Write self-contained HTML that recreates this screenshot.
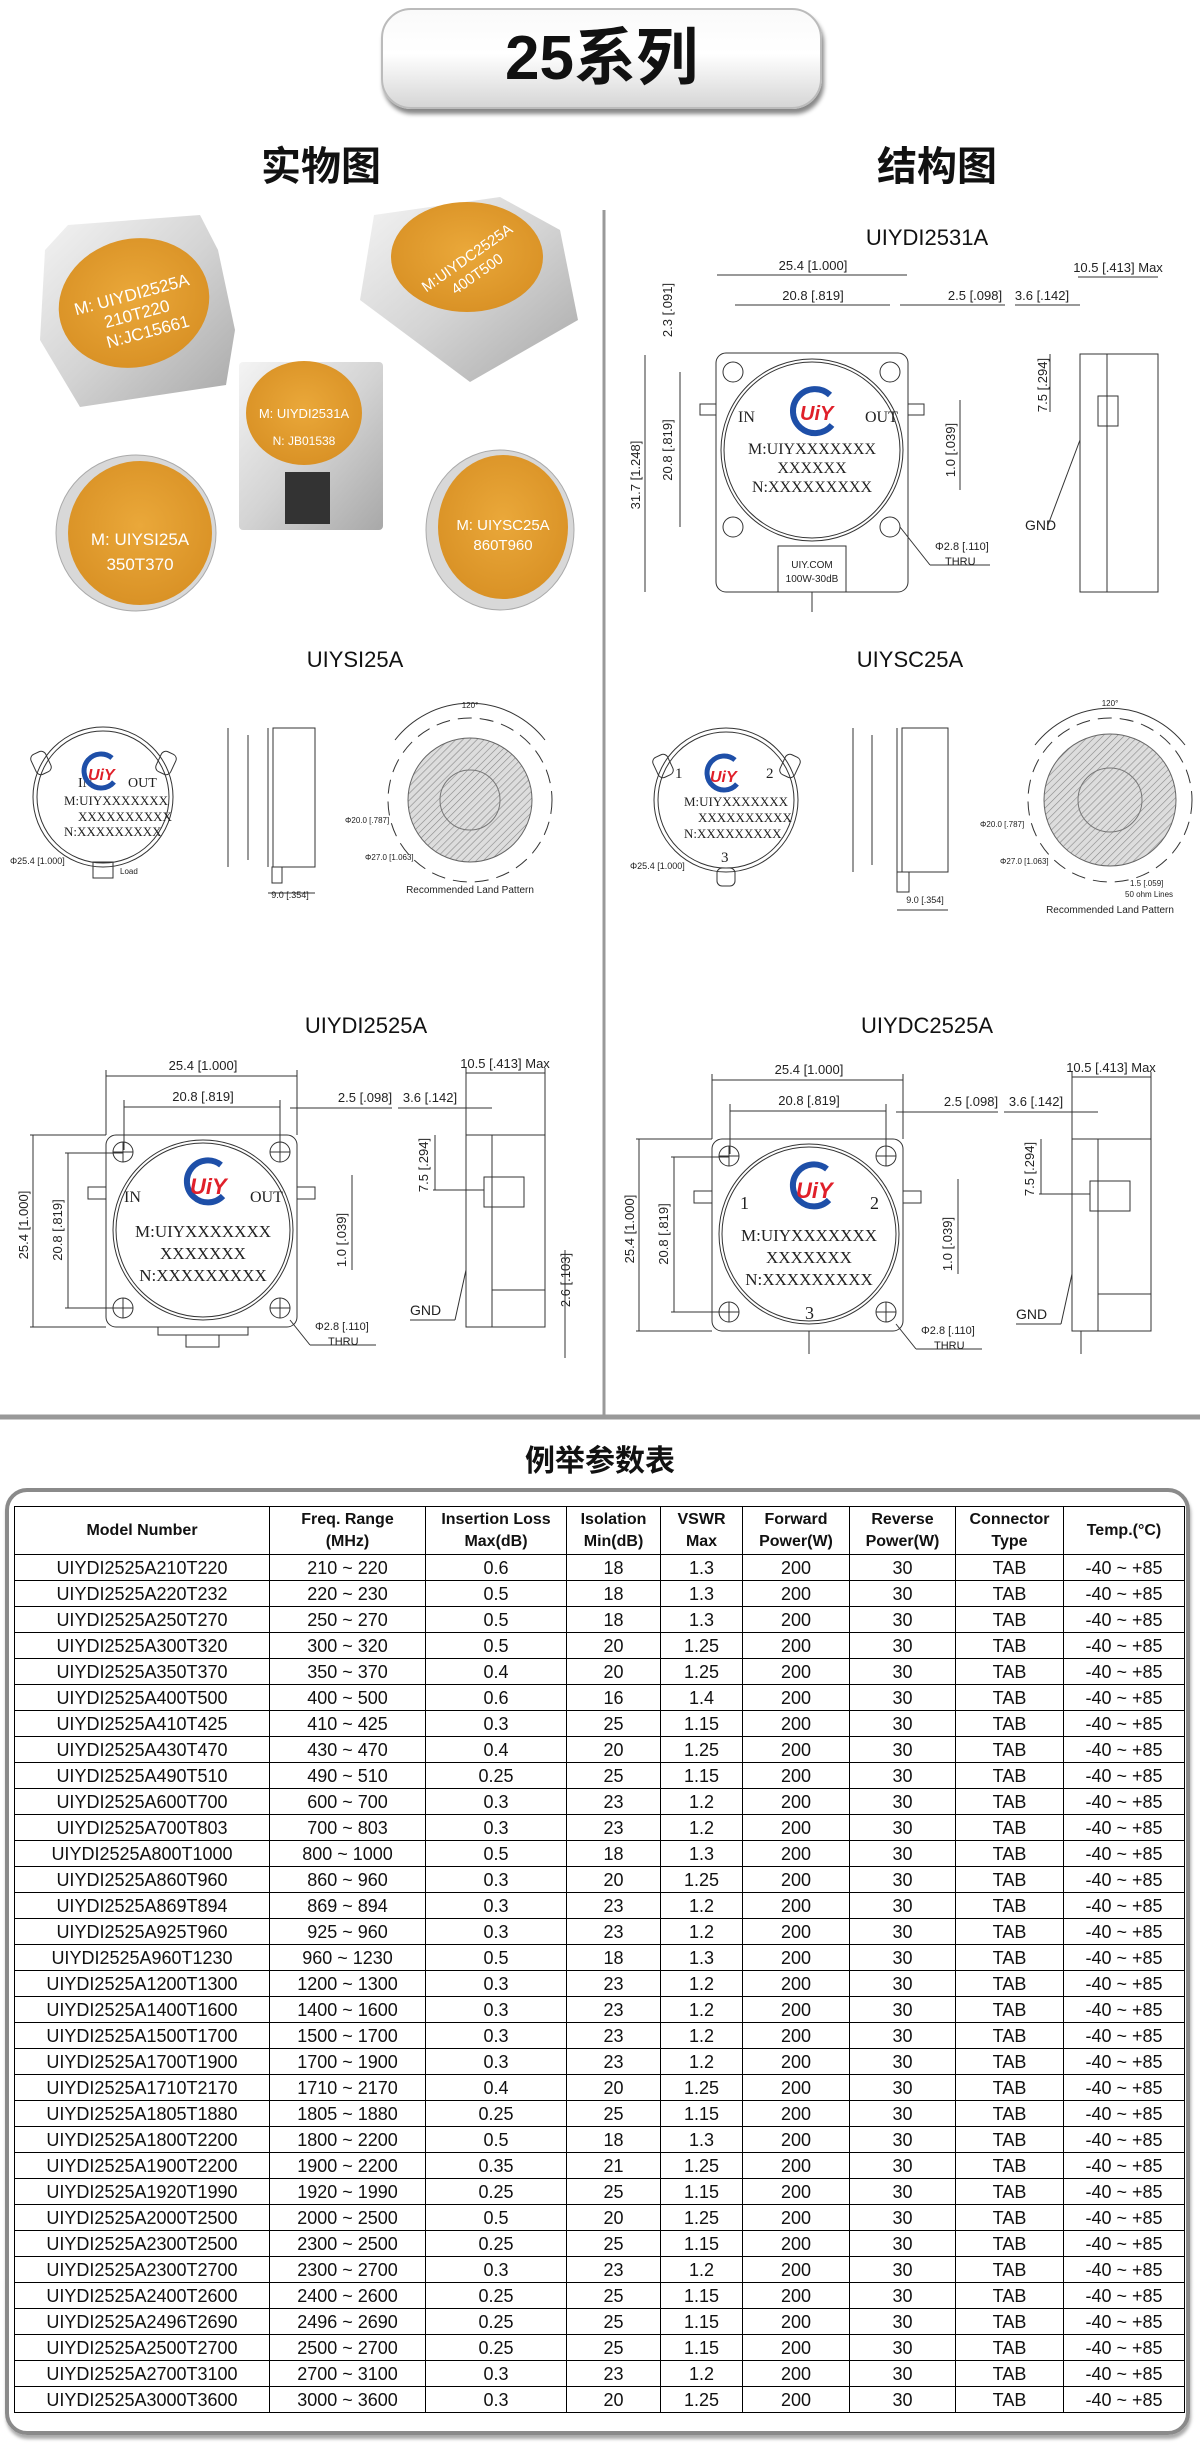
<!DOCTYPE html>
<html><head><meta charset="utf-8"><style>
*{margin:0;padding:0;box-sizing:border-box}
body{width:1200px;height:2450px;background:#fff;position:relative;overflow:hidden;font-family:"Liberation Sans","Noto Sans CJK SC",sans-serif}
.abs{position:absolute}
#title{left:381px;top:8px;width:441px;height:101px;border-radius:30px;border:2px solid #bbb;background:linear-gradient(#fafafa 0%,#fff 45%,#d6d6d6 100%);box-shadow:2px 5px 4px #888;text-align:center;font:bold 62px/98px "Liberation Sans","Noto Sans CJK SC",sans-serif;color:#111}
.h2{font:bold 40px "Liberation Sans","Noto Sans CJK SC",sans-serif;color:#111;transform:translateX(-50%)}
#box{left:5px;top:1488px;width:1185px;height:947px;border:4px solid #8a8a8a;border-radius:22px;box-shadow:1px 4px 3px #aaa}
table{position:absolute;left:14px;top:1506px;border-collapse:collapse;width:1170px;table-layout:fixed}
td,th{border:1.5px solid #000;text-align:center;font-size:18px;color:#111;height:26px;padding:0;line-height:22px;white-space:nowrap}
th{font-size:16px;font-weight:bold;height:48px;line-height:22px}
</style></head><body>
<div id="title" class="abs">25系列</div>
<div class="abs h2" style="left:321px;top:134px">实物图</div>
<div class="abs h2" style="left:937px;top:134px">结构图</div>

<svg class="abs" style="left:0;top:0" width="1200" height="1480" viewBox="0 0 1200 1480" font-family="Liberation Sans, sans-serif">
<defs>
<radialGradient id="or" cx="50%" cy="45%" r="60%"><stop offset="0" stop-color="#eaa83a"/><stop offset="1" stop-color="#d89024"/></radialGradient>
<linearGradient id="mt" x1="0" y1="0" x2="1" y2="1"><stop offset="0" stop-color="#f4f4f4"/><stop offset=".5" stop-color="#d4d4d4"/><stop offset="1" stop-color="#a8a8a8"/></linearGradient>
<pattern id="hat" width="5" height="5" patternUnits="userSpaceOnUse" patternTransform="rotate(45)"><rect width="5" height="5" fill="#ddd"/><line x1="0" y1="0" x2="0" y2="5" stroke="#888" stroke-width="1.2"/></pattern>
</defs>
<line x1="604" y1="210" x2="604" y2="1415" stroke="#999" stroke-width="3"/>
<line x1="0" y1="1417" x2="1200" y2="1417" stroke="#999" stroke-width="5"/>
<!-- photos -->
<g>
<polygon points="45,250 68,225 200,215 218,250 235,330 226,385 80,407 40,340" fill="url(#mt)"/>
<ellipse cx="134" cy="303" rx="76" ry="64" transform="rotate(-15 134 303)" fill="url(#or)"/>
<text x="134" y="300" font-size="17" fill="#fff" text-anchor="middle" transform="rotate(-15 134 303)">M: UIYDI2525A</text>
<text x="134" y="320" font-size="17" fill="#fff" text-anchor="middle" transform="rotate(-15 134 303)">210T220</text>
<text x="140" y="340" font-size="17" fill="#fff" text-anchor="middle" transform="rotate(-15 134 303)">N:JC15661</text>
<polygon points="374,215 500,197 560,230 578,320 470,382 360,300" fill="url(#mt)"/>
<ellipse cx="467" cy="257" rx="76" ry="55" fill="url(#or)"/>
<text x="470" y="262" font-size="15" fill="#fff" text-anchor="middle" transform="rotate(-35 470 262)">M:UIYDC2525A</text>
<text x="480" y="278" font-size="15" fill="#fff" text-anchor="middle" transform="rotate(-35 480 278)">400T500</text>
<rect x="239" y="362" width="144" height="168" rx="4" fill="url(#mt)"/>
<ellipse cx="304" cy="413" rx="58" ry="52" fill="url(#or)"/>
<text x="304" y="418" font-size="13" fill="#fff" text-anchor="middle">M: UIYDI2531A</text>
<text x="304" y="445" font-size="12" fill="#fff" text-anchor="middle">N: JB01538</text>
<rect x="285" y="472" width="45" height="52" fill="#333"/>
<ellipse cx="136" cy="533" rx="80" ry="78" fill="#d8d8d8" stroke="#aaa"/>
<ellipse cx="140" cy="533" rx="72" ry="72" fill="url(#or)"/>
<text x="140" y="545" font-size="17" fill="#fff" text-anchor="middle">M: UIYSI25A</text>
<text x="140" y="570" font-size="17" fill="#fff" text-anchor="middle">350T370</text>
<ellipse cx="500" cy="530" rx="74" ry="80" fill="#d8d8d8" stroke="#aaa"/>
<ellipse cx="503" cy="527" rx="65" ry="72" fill="url(#or)"/>
<text x="503" y="530" font-size="15" fill="#fff" text-anchor="middle">M: UIYSC25A</text>
<text x="503" y="550" font-size="15" fill="#fff" text-anchor="middle">860T960</text>
</g>

<g font-size="13" fill="#222" stroke="none">
<!-- UIYDI2531A -->
<text x="927" y="245" font-size="22" text-anchor="middle" fill="#111">UIYDI2531A</text>
<g fill="none" stroke="#333" stroke-width="1">
<rect x="716" y="353" width="192" height="239" rx="10"/>
<rect x="700" y="404" width="16" height="11"/><rect x="908" y="404" width="16" height="11"/>
<circle cx="812" cy="450" r="91"/><circle cx="812" cy="450" r="88"/>
<circle cx="733" cy="372" r="10"/><circle cx="890" cy="372" r="10"/><circle cx="733" cy="527" r="10"/><circle cx="890" cy="527" r="10"/>
<rect x="778" y="546" width="68" height="46"/><line x1="812" y1="592" x2="812" y2="612"/>
<rect x="1080" y="354" width="78" height="238"/><line x1="1107" y1="354" x2="1107" y2="592"/>
<rect x="1098" y="396" width="20" height="30"/>
<line x1="717" y1="275" x2="907" y2="275"/><line x1="735" y1="305" x2="890" y2="305"/>
<line x1="900" y1="305" x2="1005" y2="305"/><line x1="1015" y1="305" x2="1080" y2="305"/>
<line x1="1078" y1="277" x2="1158" y2="277"/>
<line x1="645" y1="355" x2="645" y2="592"/><line x1="680" y1="372" x2="680" y2="527"/>
<line x1="960" y1="400" x2="960" y2="490"/><line x1="1050" y1="354" x2="1050" y2="412"/>
<line x1="1080" y1="440" x2="1048" y2="525"/><line x1="900" y1="527" x2="930" y2="565"/><line x1="930" y1="565" x2="990" y2="565"/>
</g>
<text x="738" y="422" font-family="Liberation Serif" font-size="16">IN</text>
<text x="865" y="422" font-family="Liberation Serif" font-size="16">OUT</text>
<path d="M830,395 A22,22 0 1 0 832,425" fill="none" stroke="#1e4fa8" stroke-width="6"/>
<text x="800" y="420" font-size="20" font-weight="bold" font-style="italic" fill="#e0202a">UiY</text>
<text x="812" y="454" font-family="Liberation Serif" font-size="16" text-anchor="middle">M:UIYXXXXXXX</text>
<text x="812" y="473" font-family="Liberation Serif" font-size="16" text-anchor="middle">XXXXXX</text>
<text x="812" y="492" font-family="Liberation Serif" font-size="16" text-anchor="middle">N:XXXXXXXXX</text>
<text x="812" y="568" font-size="10" text-anchor="middle">UIY.COM</text>
<text x="812" y="582" font-size="10" text-anchor="middle">100W-30dB</text>
<text x="813" y="270" text-anchor="middle">25.4 [1.000]</text>
<text x="813" y="300" text-anchor="middle">20.8 [.819]</text>
<text x="975" y="300" text-anchor="middle">2.5 [.098]</text>
<text x="1042" y="300" text-anchor="middle">3.6 [.142]</text>
<text x="1118" y="272" text-anchor="middle">10.5 [.413] Max</text>
<text transform="translate(672,310) rotate(-90)" text-anchor="middle">2.3 [.091]</text>
<text transform="translate(640,475) rotate(-90)" text-anchor="middle">31.7 [1.248]</text>
<text transform="translate(672,450) rotate(-90)" text-anchor="middle">20.8 [.819]</text>
<text transform="translate(955,450) rotate(-90)" text-anchor="middle">1.0 [.039]</text>
<text transform="translate(1047,385) rotate(-90)" text-anchor="middle">7.5 [.294]</text>
<text x="1025" y="530" font-size="14">GND</text>
<text x="935" y="550" font-size="11">Φ2.8 [.110]</text>
<text x="945" y="565" font-size="11">THRU</text>

<!-- UIYSI25A -->
<text x="355" y="667" font-size="22" text-anchor="middle" fill="#111">UIYSI25A</text>
<g fill="none" stroke="#333" stroke-width="1">
<circle cx="103" cy="797" r="70"/><circle cx="103" cy="797" r="66"/>
<rect x="33" y="752" width="16" height="22" rx="5" transform="rotate(-25 41 763)"/><rect x="158" y="752" width="16" height="22" rx="5" transform="rotate(25 166 763)"/>
<rect x="93" y="862" width="20" height="16"/>
<rect x="273" y="728" width="42" height="139"/><line x1="268" y1="728" x2="268" y2="867"/><rect x="272" y="867" width="10" height="16"/>
<line x1="228" y1="728" x2="228" y2="867"/><line x1="248" y1="735" x2="248" y2="860"/>
<line x1="268" y1="893" x2="315" y2="893"/>
<circle cx="470" cy="800" r="82" stroke-dasharray="14 8"/>
<path d="M395,740 A95,95 0 0 1 545,740"/>
</g>
<circle cx="470" cy="800" r="62" fill="url(#hat)" stroke="#666"/>
<circle cx="470" cy="800" r="30" fill="none" stroke="#777"/>
<text x="78" y="787" font-family="Liberation Serif" font-size="14">IN</text>
<text x="128" y="787" font-family="Liberation Serif" font-size="14">OUT</text>
<path d="M112,758 A17,17 0 1 0 114,782" fill="none" stroke="#1e4fa8" stroke-width="5"/>
<text x="88" y="780" font-size="16" font-weight="bold" font-style="italic" fill="#e0202a">UiY</text>
<text x="64" y="805" font-family="Liberation Serif" font-size="13">M:UIYXXXXXXX</text>
<text x="78" y="821" font-family="Liberation Serif" font-size="13">XXXXXXXXXX</text>
<text x="64" y="836" font-family="Liberation Serif" font-size="13">N:XXXXXXXXX</text>
<text x="10" y="864" font-size="9">Φ25.4 [1.000]</text><text x="120" y="874" font-size="8">Load</text>
<text x="290" y="898" font-size="9" text-anchor="middle">9.0 [.354]</text>
<text x="470" y="893" font-size="10" text-anchor="middle">Recommended Land Pattern</text>
<text x="470" y="708" font-size="8" text-anchor="middle">120°</text>
<text x="345" y="823" font-size="8">Φ20.0 [.787]</text><text x="365" y="860" font-size="8">Φ27.0 [1.063]</text>

<!-- UIYSC25A -->
<text x="910" y="667" font-size="22" text-anchor="middle" fill="#111">UIYSC25A</text>
<g fill="none" stroke="#333" stroke-width="1">
<circle cx="726" cy="800" r="72"/><circle cx="726" cy="800" r="68"/>
<rect x="655" y="755" width="16" height="22" rx="5" transform="rotate(-25 663 766)"/><rect x="782" y="755" width="16" height="22" rx="5" transform="rotate(25 790 766)"/>
<rect x="717" y="868" width="18" height="18" rx="5"/>
<rect x="902" y="728" width="46" height="144"/><line x1="897" y1="728" x2="897" y2="872"/><rect x="897" y="872" width="12" height="20"/>
<line x1="853" y1="728" x2="853" y2="872"/><line x1="872" y1="735" x2="872" y2="865"/>
<line x1="897" y1="910" x2="948" y2="910"/>
<circle cx="1110" cy="800" r="82" stroke-dasharray="14 8"/>
<path d="M1035,745 A95,95 0 0 1 1185,745"/>
</g>
<circle cx="1110" cy="800" r="66" fill="url(#hat)" stroke="#666"/>
<circle cx="1110" cy="800" r="32" fill="none" stroke="#777"/>
<text x="675" y="778" font-family="Liberation Serif" font-size="15">1</text><text x="766" y="778" font-family="Liberation Serif" font-size="15">2</text>
<text x="721" y="862" font-family="Liberation Serif" font-size="15">3</text>
<path d="M735,760 A17,17 0 1 0 737,784" fill="none" stroke="#1e4fa8" stroke-width="5"/>
<text x="710" y="782" font-size="16" font-weight="bold" font-style="italic" fill="#e0202a">UiY</text>
<text x="684" y="806" font-family="Liberation Serif" font-size="13">M:UIYXXXXXXX</text>
<text x="698" y="822" font-family="Liberation Serif" font-size="13">XXXXXXXXXX</text>
<text x="684" y="838" font-family="Liberation Serif" font-size="13">N:XXXXXXXXX</text>
<text x="630" y="869" font-size="9">Φ25.4 [1.000]</text>
<text x="925" y="903" font-size="9" text-anchor="middle">9.0 [.354]</text>
<text x="1110" y="913" font-size="10" text-anchor="middle">Recommended Land Pattern</text>
<text x="1110" y="706" font-size="8" text-anchor="middle">120°</text>
<text x="980" y="827" font-size="8">Φ20.0 [.787]</text><text x="1000" y="864" font-size="8">Φ27.0 [1.063]</text>
<text x="1130" y="886" font-size="8">1.5 [.059]</text><text x="1125" y="897" font-size="8">50 ohm Lines</text>

<!-- UIYDI2525A -->
<text x="366" y="1033" font-size="22" text-anchor="middle" fill="#111">UIYDI2525A</text>
<g>
<g fill="none" stroke="#333" stroke-width="1">
<rect x="106" y="1135" width="191" height="192" rx="10"/>
<rect x="88" y="1187" width="18" height="12"/><rect x="297" y="1187" width="18" height="12"/>
<circle cx="203" cy="1230" r="90"/><circle cx="203" cy="1230" r="87"/>
<circle cx="123" cy="1152" r="10"/><circle cx="280" cy="1152" r="10"/><circle cx="123" cy="1308" r="10"/><circle cx="280" cy="1308" r="10"/>
<line x1="113" y1="1152" x2="133" y2="1152"/><line x1="123" y1="1142" x2="123" y2="1162"/>
<line x1="270" y1="1152" x2="290" y2="1152"/><line x1="280" y1="1142" x2="280" y2="1162"/>
<line x1="113" y1="1308" x2="133" y2="1308"/><line x1="123" y1="1298" x2="123" y2="1318"/>
<line x1="270" y1="1308" x2="290" y2="1308"/><line x1="280" y1="1298" x2="280" y2="1318"/>
<line x1="106" y1="1076" x2="297" y2="1076"/><line x1="106" y1="1070" x2="106" y2="1135"/><line x1="297" y1="1070" x2="297" y2="1135"/>
<line x1="124" y1="1107" x2="280" y2="1107"/><line x1="124" y1="1100" x2="124" y2="1150"/><line x1="280" y1="1100" x2="280" y2="1150"/>
<line x1="290" y1="1108" x2="392" y2="1108"/><line x1="398" y1="1108" x2="492" y2="1108"/>
<line x1="466" y1="1073" x2="545" y2="1073"/><line x1="466" y1="1068" x2="466" y2="1135"/><line x1="545" y1="1068" x2="545" y2="1135"/>
<line x1="33" y1="1135" x2="33" y2="1327"/><line x1="30" y1="1135" x2="106" y2="1135"/><line x1="30" y1="1327" x2="106" y2="1327"/>
<line x1="68" y1="1153" x2="68" y2="1308"/><line x1="65" y1="1153" x2="123" y2="1153"/><line x1="65" y1="1308" x2="123" y2="1308"/>
<line x1="352" y1="1175" x2="352" y2="1270"/>
<rect x="466" y="1135" width="79" height="192"/><line x1="492" y1="1135" x2="492" y2="1327"/>
<rect x="484" y="1177" width="40" height="30"/><rect x="492" y="1290" width="53" height="37"/>
<line x1="435" y1="1135" x2="435" y2="1190"/><line x1="433" y1="1190" x2="484" y2="1190"/>
<line x1="565" y1="1250" x2="565" y2="1358"/>
<line x1="466" y1="1270" x2="455" y2="1320"/><line x1="410" y1="1320" x2="455" y2="1320"/>
<line x1="290" y1="1320" x2="310" y2="1345"/><line x1="310" y1="1345" x2="376" y2="1345"/>
</g>
<path d="M221,1165 A21,21 0 1 0 223,1196" fill="none" stroke="#1e4fa8" stroke-width="6"/>
<text x="190" y="1194" font-size="22" font-weight="bold" font-style="italic" fill="#e0202a">UiY</text>
<text x="203" y="1237" font-family="Liberation Serif" font-size="17" text-anchor="middle">M:UIYXXXXXXX</text>
<text x="203" y="1259" font-family="Liberation Serif" font-size="17" text-anchor="middle">XXXXXXX</text>
<text x="203" y="1281" font-family="Liberation Serif" font-size="17" text-anchor="middle">N:XXXXXXXXX</text>
<text x="203" y="1070" text-anchor="middle">25.4 [1.000]</text>
<text x="203" y="1101" text-anchor="middle">20.8 [.819]</text>
<text x="365" y="1102" text-anchor="middle">2.5 [.098]</text>
<text x="430" y="1102" text-anchor="middle">3.6 [.142]</text>
<text x="505" y="1068" text-anchor="middle">10.5 [.413] Max</text>
<text transform="translate(28,1225) rotate(-90)" text-anchor="middle">25.4 [1.000]</text>
<text transform="translate(62,1230) rotate(-90)" text-anchor="middle">20.8 [.819]</text>
<text transform="translate(346,1240) rotate(-90)" text-anchor="middle">1.0 [.039]</text>
<text transform="translate(428,1165) rotate(-90)" text-anchor="middle">7.5 [.294]</text>
<text x="410" y="1315" font-size="14">GND</text>
<text x="315" y="1330" font-size="11">Φ2.8 [.110]</text>
<text x="328" y="1345" font-size="11">THRU</text>
</g>
<text x="124" y="1202" font-family="Liberation Serif" font-size="16">IN</text>
<text x="250" y="1202" font-family="Liberation Serif" font-size="16">OUT</text>
<text transform="translate(570,1280) rotate(-90)" text-anchor="middle">2.6 [.103]</text>
<rect x="158" y="1327" width="90" height="8" fill="none" stroke="#333"/><rect x="186" y="1335" width="33" height="12" fill="none" stroke="#333"/>

<!-- UIYDC2525A -->
<text x="927" y="1033" font-size="22" text-anchor="middle" fill="#111">UIYDC2525A</text>
<g transform="translate(606,4)">
<g fill="none" stroke="#333" stroke-width="1">
<rect x="106" y="1135" width="191" height="192" rx="10"/>
<rect x="88" y="1187" width="18" height="12"/><rect x="297" y="1187" width="18" height="12"/>
<circle cx="203" cy="1230" r="90"/><circle cx="203" cy="1230" r="87"/>
<circle cx="123" cy="1152" r="10"/><circle cx="280" cy="1152" r="10"/><circle cx="123" cy="1308" r="10"/><circle cx="280" cy="1308" r="10"/>
<line x1="113" y1="1152" x2="133" y2="1152"/><line x1="123" y1="1142" x2="123" y2="1162"/>
<line x1="270" y1="1152" x2="290" y2="1152"/><line x1="280" y1="1142" x2="280" y2="1162"/>
<line x1="113" y1="1308" x2="133" y2="1308"/><line x1="123" y1="1298" x2="123" y2="1318"/>
<line x1="270" y1="1308" x2="290" y2="1308"/><line x1="280" y1="1298" x2="280" y2="1318"/>
<line x1="106" y1="1076" x2="297" y2="1076"/><line x1="106" y1="1070" x2="106" y2="1135"/><line x1="297" y1="1070" x2="297" y2="1135"/>
<line x1="124" y1="1107" x2="280" y2="1107"/><line x1="124" y1="1100" x2="124" y2="1150"/><line x1="280" y1="1100" x2="280" y2="1150"/>
<line x1="290" y1="1108" x2="392" y2="1108"/><line x1="398" y1="1108" x2="492" y2="1108"/>
<line x1="466" y1="1073" x2="545" y2="1073"/><line x1="466" y1="1068" x2="466" y2="1135"/><line x1="545" y1="1068" x2="545" y2="1135"/>
<line x1="33" y1="1135" x2="33" y2="1327"/><line x1="30" y1="1135" x2="106" y2="1135"/><line x1="30" y1="1327" x2="106" y2="1327"/>
<line x1="68" y1="1153" x2="68" y2="1308"/><line x1="65" y1="1153" x2="123" y2="1153"/><line x1="65" y1="1308" x2="123" y2="1308"/>
<line x1="352" y1="1175" x2="352" y2="1270"/>
<rect x="466" y="1135" width="79" height="192"/><line x1="492" y1="1135" x2="492" y2="1327"/>
<rect x="484" y="1177" width="40" height="30"/><rect x="492" y="1290" width="53" height="37"/>
<line x1="435" y1="1135" x2="435" y2="1190"/><line x1="433" y1="1190" x2="484" y2="1190"/>
<line x1="466" y1="1270" x2="455" y2="1320"/><line x1="410" y1="1320" x2="455" y2="1320"/>
<line x1="290" y1="1320" x2="310" y2="1345"/><line x1="310" y1="1345" x2="376" y2="1345"/>
<line x1="203" y1="1327" x2="203" y2="1350"/><line x1="475" y1="1327" x2="475" y2="1350"/>
</g>
<path d="M221,1165 A21,21 0 1 0 223,1196" fill="none" stroke="#1e4fa8" stroke-width="6"/>
<text x="190" y="1194" font-size="22" font-weight="bold" font-style="italic" fill="#e0202a">UiY</text>
<text x="203" y="1237" font-family="Liberation Serif" font-size="17" text-anchor="middle">M:UIYXXXXXXX</text>
<text x="203" y="1259" font-family="Liberation Serif" font-size="17" text-anchor="middle">XXXXXXX</text>
<text x="203" y="1281" font-family="Liberation Serif" font-size="17" text-anchor="middle">N:XXXXXXXXX</text>
<text x="203" y="1070" text-anchor="middle">25.4 [1.000]</text>
<text x="203" y="1101" text-anchor="middle">20.8 [.819]</text>
<text x="365" y="1102" text-anchor="middle">2.5 [.098]</text>
<text x="430" y="1102" text-anchor="middle">3.6 [.142]</text>
<text x="505" y="1068" text-anchor="middle">10.5 [.413] Max</text>
<text transform="translate(28,1225) rotate(-90)" text-anchor="middle">25.4 [1.000]</text>
<text transform="translate(62,1230) rotate(-90)" text-anchor="middle">20.8 [.819]</text>
<text transform="translate(346,1240) rotate(-90)" text-anchor="middle">1.0 [.039]</text>
<text transform="translate(428,1165) rotate(-90)" text-anchor="middle">7.5 [.294]</text>
<text x="410" y="1315" font-size="14">GND</text>
<text x="315" y="1330" font-size="11">Φ2.8 [.110]</text>
<text x="328" y="1345" font-size="11">THRU</text>
<text x="134" y="1205" font-family="Liberation Serif" font-size="18">1</text>
<text x="264" y="1205" font-family="Liberation Serif" font-size="18">2</text>
<text x="199" y="1315" font-family="Liberation Serif" font-size="18">3</text>
</g>
</g>
</svg>

<div class="abs" style="left:600px;top:1436px;transform:translateX(-50%);font:bold 30px 'Liberation Sans','Noto Sans CJK SC',sans-serif;color:#111">例举参数表</div>
<div id="box" class="abs"></div>
<table>
<colgroup><col style="width:255px"><col style="width:156px"><col style="width:141px"><col style="width:94px"><col style="width:82px"><col style="width:107px"><col style="width:106px"><col style="width:108px"><col style="width:121px"></colgroup>
<tr><th>Model Number</th><th>Freq. Range<br>(MHz)</th><th>Insertion Loss<br>Max(dB)</th><th>Isolation<br>Min(dB)</th><th>VSWR<br>Max</th><th>Forward<br>Power(W)</th><th>Reverse<br>Power(W)</th><th>Connector<br>Type</th><th>Temp.(°C)</th></tr>
<tr><td>UIYDI2525A210T220</td><td>210 ~ 220</td><td>0.6</td><td>18</td><td>1.3</td><td>200</td><td>30</td><td>TAB</td><td>-40 ~ +85</td></tr>
<tr><td>UIYDI2525A220T232</td><td>220 ~ 230</td><td>0.5</td><td>18</td><td>1.3</td><td>200</td><td>30</td><td>TAB</td><td>-40 ~ +85</td></tr>
<tr><td>UIYDI2525A250T270</td><td>250 ~ 270</td><td>0.5</td><td>18</td><td>1.3</td><td>200</td><td>30</td><td>TAB</td><td>-40 ~ +85</td></tr>
<tr><td>UIYDI2525A300T320</td><td>300 ~ 320</td><td>0.5</td><td>20</td><td>1.25</td><td>200</td><td>30</td><td>TAB</td><td>-40 ~ +85</td></tr>
<tr><td>UIYDI2525A350T370</td><td>350 ~ 370</td><td>0.4</td><td>20</td><td>1.25</td><td>200</td><td>30</td><td>TAB</td><td>-40 ~ +85</td></tr>
<tr><td>UIYDI2525A400T500</td><td>400 ~ 500</td><td>0.6</td><td>16</td><td>1.4</td><td>200</td><td>30</td><td>TAB</td><td>-40 ~ +85</td></tr>
<tr><td>UIYDI2525A410T425</td><td>410 ~ 425</td><td>0.3</td><td>25</td><td>1.15</td><td>200</td><td>30</td><td>TAB</td><td>-40 ~ +85</td></tr>
<tr><td>UIYDI2525A430T470</td><td>430 ~ 470</td><td>0.4</td><td>20</td><td>1.25</td><td>200</td><td>30</td><td>TAB</td><td>-40 ~ +85</td></tr>
<tr><td>UIYDI2525A490T510</td><td>490 ~ 510</td><td>0.25</td><td>25</td><td>1.15</td><td>200</td><td>30</td><td>TAB</td><td>-40 ~ +85</td></tr>
<tr><td>UIYDI2525A600T700</td><td>600 ~ 700</td><td>0.3</td><td>23</td><td>1.2</td><td>200</td><td>30</td><td>TAB</td><td>-40 ~ +85</td></tr>
<tr><td>UIYDI2525A700T803</td><td>700 ~ 803</td><td>0.3</td><td>23</td><td>1.2</td><td>200</td><td>30</td><td>TAB</td><td>-40 ~ +85</td></tr>
<tr><td>UIYDI2525A800T1000</td><td>800 ~ 1000</td><td>0.5</td><td>18</td><td>1.3</td><td>200</td><td>30</td><td>TAB</td><td>-40 ~ +85</td></tr>
<tr><td>UIYDI2525A860T960</td><td>860 ~ 960</td><td>0.3</td><td>20</td><td>1.25</td><td>200</td><td>30</td><td>TAB</td><td>-40 ~ +85</td></tr>
<tr><td>UIYDI2525A869T894</td><td>869 ~ 894</td><td>0.3</td><td>23</td><td>1.2</td><td>200</td><td>30</td><td>TAB</td><td>-40 ~ +85</td></tr>
<tr><td>UIYDI2525A925T960</td><td>925 ~ 960</td><td>0.3</td><td>23</td><td>1.2</td><td>200</td><td>30</td><td>TAB</td><td>-40 ~ +85</td></tr>
<tr><td>UIYDI2525A960T1230</td><td>960 ~ 1230</td><td>0.5</td><td>18</td><td>1.3</td><td>200</td><td>30</td><td>TAB</td><td>-40 ~ +85</td></tr>
<tr><td>UIYDI2525A1200T1300</td><td>1200 ~ 1300</td><td>0.3</td><td>23</td><td>1.2</td><td>200</td><td>30</td><td>TAB</td><td>-40 ~ +85</td></tr>
<tr><td>UIYDI2525A1400T1600</td><td>1400 ~ 1600</td><td>0.3</td><td>23</td><td>1.2</td><td>200</td><td>30</td><td>TAB</td><td>-40 ~ +85</td></tr>
<tr><td>UIYDI2525A1500T1700</td><td>1500 ~ 1700</td><td>0.3</td><td>23</td><td>1.2</td><td>200</td><td>30</td><td>TAB</td><td>-40 ~ +85</td></tr>
<tr><td>UIYDI2525A1700T1900</td><td>1700 ~ 1900</td><td>0.3</td><td>23</td><td>1.2</td><td>200</td><td>30</td><td>TAB</td><td>-40 ~ +85</td></tr>
<tr><td>UIYDI2525A1710T2170</td><td>1710 ~ 2170</td><td>0.4</td><td>20</td><td>1.25</td><td>200</td><td>30</td><td>TAB</td><td>-40 ~ +85</td></tr>
<tr><td>UIYDI2525A1805T1880</td><td>1805 ~ 1880</td><td>0.25</td><td>25</td><td>1.15</td><td>200</td><td>30</td><td>TAB</td><td>-40 ~ +85</td></tr>
<tr><td>UIYDI2525A1800T2200</td><td>1800 ~ 2200</td><td>0.5</td><td>18</td><td>1.3</td><td>200</td><td>30</td><td>TAB</td><td>-40 ~ +85</td></tr>
<tr><td>UIYDI2525A1900T2200</td><td>1900 ~ 2200</td><td>0.35</td><td>21</td><td>1.25</td><td>200</td><td>30</td><td>TAB</td><td>-40 ~ +85</td></tr>
<tr><td>UIYDI2525A1920T1990</td><td>1920 ~ 1990</td><td>0.25</td><td>25</td><td>1.15</td><td>200</td><td>30</td><td>TAB</td><td>-40 ~ +85</td></tr>
<tr><td>UIYDI2525A2000T2500</td><td>2000 ~ 2500</td><td>0.5</td><td>20</td><td>1.25</td><td>200</td><td>30</td><td>TAB</td><td>-40 ~ +85</td></tr>
<tr><td>UIYDI2525A2300T2500</td><td>2300 ~ 2500</td><td>0.25</td><td>25</td><td>1.15</td><td>200</td><td>30</td><td>TAB</td><td>-40 ~ +85</td></tr>
<tr><td>UIYDI2525A2300T2700</td><td>2300 ~ 2700</td><td>0.3</td><td>23</td><td>1.2</td><td>200</td><td>30</td><td>TAB</td><td>-40 ~ +85</td></tr>
<tr><td>UIYDI2525A2400T2600</td><td>2400 ~ 2600</td><td>0.25</td><td>25</td><td>1.15</td><td>200</td><td>30</td><td>TAB</td><td>-40 ~ +85</td></tr>
<tr><td>UIYDI2525A2496T2690</td><td>2496 ~ 2690</td><td>0.25</td><td>25</td><td>1.15</td><td>200</td><td>30</td><td>TAB</td><td>-40 ~ +85</td></tr>
<tr><td>UIYDI2525A2500T2700</td><td>2500 ~ 2700</td><td>0.25</td><td>25</td><td>1.15</td><td>200</td><td>30</td><td>TAB</td><td>-40 ~ +85</td></tr>
<tr><td>UIYDI2525A2700T3100</td><td>2700 ~ 3100</td><td>0.3</td><td>23</td><td>1.2</td><td>200</td><td>30</td><td>TAB</td><td>-40 ~ +85</td></tr>
<tr><td>UIYDI2525A3000T3600</td><td>3000 ~ 3600</td><td>0.3</td><td>20</td><td>1.25</td><td>200</td><td>30</td><td>TAB</td><td>-40 ~ +85</td></tr>
</table>
</body></html>
